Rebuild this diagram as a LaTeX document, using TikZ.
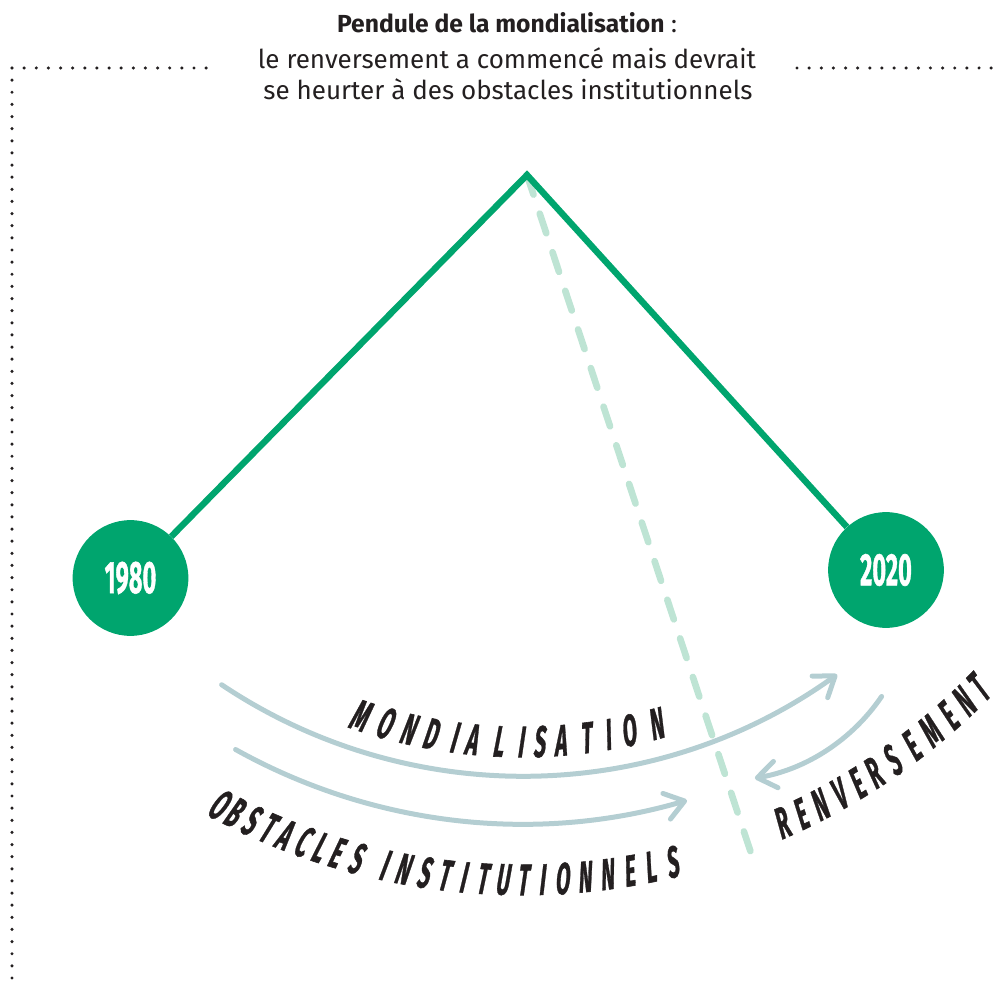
\documentclass[tikz,border=0pt]{standalone}
\usepackage{fontspec}
\setmainfont{Fira Sans}
\newfontfamily\capsfont{Fira Sans}[FakeBold=1.3]
\usetikzlibrary{arrows.meta,calc}

\definecolor{rodgreen}{RGB}{0,165,110}
\definecolor{axisgreen}{RGB}{190,228,212}
\definecolor{swingblue}{RGB}{180,206,210}
\definecolor{ink}{RGB}{35,31,32}

\begin{document}
\begin{tikzpicture}[x=0.75pt,y=-0.75pt,
  dots/.style={draw=ink, line width=2.6pt, line cap=round, dash pattern=on 0pt off 9.1pt},
  rod/.style={draw=rodgreen, line width=4.8pt, line join=miter},
  axisline/.style={draw=axisgreen, line width=5pt, line cap=round, dash pattern=on 15.5pt off 15pt},
  bob/.style={circle, fill=rodgreen, minimum size=86.8pt, inner sep=0pt, text=white,
    font=\fontsize{34pt}{34pt}\selectfont\capsfont\bfseries},
  swing/.style={draw=swingblue, line width=3.75pt, line cap=round,
    -{Straight Barb[length=14pt, width=20pt, round]}},
  letter/.style={text=ink, inner sep=0pt, font=\fontsize{33pt}{33pt}\selectfont\capsfont\bfseries,
    xslant=0.15, xscale=0.47},
  heading/.style={text=ink, anchor=base, inner sep=0pt}]

\useasboundingbox (0,0) rectangle (996,994);

% frame of dots
\coordinate (corner) at (12,68);
\coordinate (leftend) at (213,68);
\coordinate (bottomend) at (12,982);
\coordinate (rightstart) at (797,68);
\coordinate (rightend) at (994,68);
\draw[dots] (corner) -- (leftend);
\draw[dots] (corner) -- (bottomend);
\draw[dots] (rightstart) -- (rightend);

% heading
\node[heading, font=\fontsize{18.5pt}{22pt}\selectfont] (title) at (507,33)
  {{\bfseries Pendule de la mondialisation} :};
\node[heading, font=\fontsize{19.5pt}{24pt}\selectfont] (subA) at (507,69)
  {le renversement a commencé mais devrait};
\node[heading, font=\fontsize{19.5pt}{24pt}\selectfont] (subB) at (508,100)
  {se heurter à des obstacles institutionnels};

% pendulum
\coordinate (pivot) at (527,175);
\coordinate (axisend) at (751,853);
\draw[axisline] (pivot) -- (axisend);

\node[bob] (y1980) at (130.5,578) {\scalebox{0.52}[1]{1980}};
\node[bob] (y2020) at (886,570) {\scalebox{0.52}[1]{2020}};
\draw[rod] (y1980) -- (pivot) -- (y2020);

% swing arrows
\coordinate (O) at (522,236);
\coordinate (mstart) at ($(O)+(123.8:540)$);
\coordinate (ostart) at ($(O)+(119.15:588)$);
\coordinate (R) at (722,588);
\coordinate (rstart) at ($(R)+(34.2:193)$);
\draw[swing] (mstart) arc[start angle=123.8, end angle=54.3, radius=540];
\draw[swing] (ostart) arc[start angle=119.15, end angle=73.7, radius=588];
\draw[swing] (rstart) arc[start angle=34.2, end angle=80.2, radius=193];

% lettering along the arcs
\foreach \ch/\ang [count=\i] in {M/108.47, O/105.51, N/102.79, D/100.21, I/97.53,
    A/95.52, L/92.49, I/89.97, S/87.88, A/85.50, T/82.58, I/80.10, O/77.68, N/74.49}
  \node[rotate=90-\ang, letter] (mw\i) at ($(O)+(\ang:506)$) {\ch};

\foreach \ch/\ang [count=\i] in {O/117.89, B/116.39, S/114.74, T/113.11, A/111.50,
    C/109.76, L/108.18, E/106.63, S/104.77, I/102.2, N/100.5, S/98.6, T/96.8,
    I/95.1, T/93.4, U/91.6, T/89.8, I/88.1, O/86.3, N/84.3, N/82.3,
    E/80.3, L/78.4, S/76.4}
  \node[rotate=90-\ang, letter] (ow\i) at ($(O)+(\ang:644)$) {\ch};

\foreach \ch/\ang [count=\i] in {R/66.01, E/64.15, N/62.28, V/60.29, E/58.44,
    R/56.70, S/54.68, E/52.54, M/50.42, E/48.30, N/46.41, T/44.6}
  \node[rotate=90-\ang, letter] (rw\i) at ($(O)+(\ang:642)$) {\ch};

\end{tikzpicture}
\end{document}
